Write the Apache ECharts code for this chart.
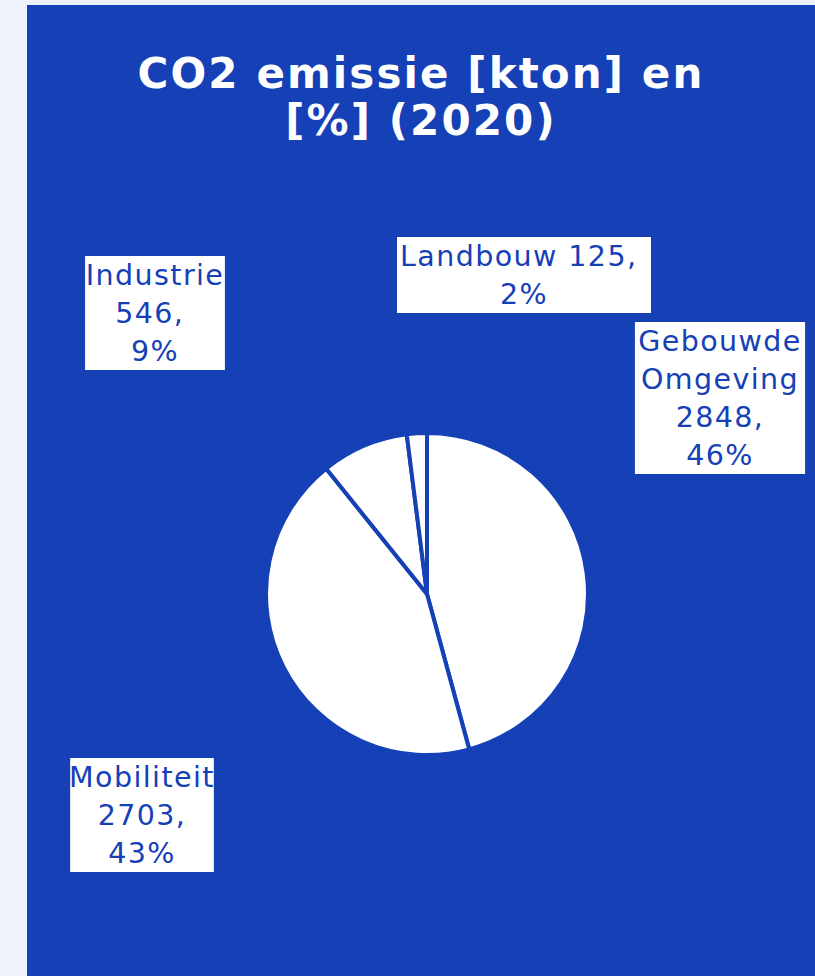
<!DOCTYPE html>
<html>
<head>
<meta charset="utf-8">
<script src="https://cdn.jsdelivr.net/npm/echarts@6/dist/echarts.min.js"></script>
<style>
  html, body { margin: 0; padding: 0; background: #eef2fa; width: 815px; height: 976px; overflow: hidden; }
  #chart { position: absolute; left: 27px; top: 5px; width: 788px; height: 971px; }
  #chart svg text { letter-spacing: 0.05em; }
</style>
</head>
<body>
<div id="chart"></div>
<script>
const titleText = 'CO2 emissie [kton] en\n[%] (2020)';
const categories = ['Gebouwde Omgeving', 'Mobiliteit', 'Industrie', 'Landbouw'];
const values = [2848, 2703, 546, 125];
// label line templates: {v} value, {p} percent
const labelTemplates = [
  'Gebouwde\nOmgeving\n{v},\n{p}%',
  'Mobiliteit\n{v},\n{p}%',
  'Industrie\n{v}, \n{p}%',
  'Landbouw {v}, \n{p}%'
];
const labelAnchors = [
  [693, 317],
  [115, 753],
  [128, 251],
  [497, 232]
];
const labelPadX = [9, 6, 7, 13];

const BLUE = '#1540b6';
const chart = echarts.init(document.getElementById('chart'), null, { renderer: 'svg' });
chart.setOption({
  backgroundColor: BLUE,
  animation: false,
  title: {
    text: titleText,
    left: 'center',
    top: 40,
    textStyle: { color: '#ffffff', fontFamily: 'DejaVu Sans', fontWeight: 'bold', fontSize: 42, lineHeight: 47 }
  },
  series: [{
    type: 'pie',
    center: [400, 589],
    radius: [0, 161],
    startAngle: 90,
    clockwise: true,
    avoidLabelOverlap: false,
    data: categories.map((c, i) => ({ name: c, value: values[i], label: { padding: [0, labelPadX[i]] } })),
    itemStyle: { color: '#ffffff', borderColor: BLUE, borderWidth: 4 },
    label: {
      show: true,
      position: 'outside',
      color: BLUE,
      backgroundColor: '#ffffff',
      fontFamily: 'DejaVu Sans',
      fontSize: 28.5,
      lineHeight: 38,
      align: 'center',
      formatter: p => labelTemplates[p.dataIndex].replace('{v}', p.value).replace('{p}', Math.round(p.percent))
    },
    labelLine: { show: false },
    labelLayout: p => ({ x: labelAnchors[p.dataIndex][0], y: labelAnchors[p.dataIndex][1], align: 'center', verticalAlign: 'top' }),
    emphasis: { disabled: true }
  }]
});
</script>
</body>
</html>
